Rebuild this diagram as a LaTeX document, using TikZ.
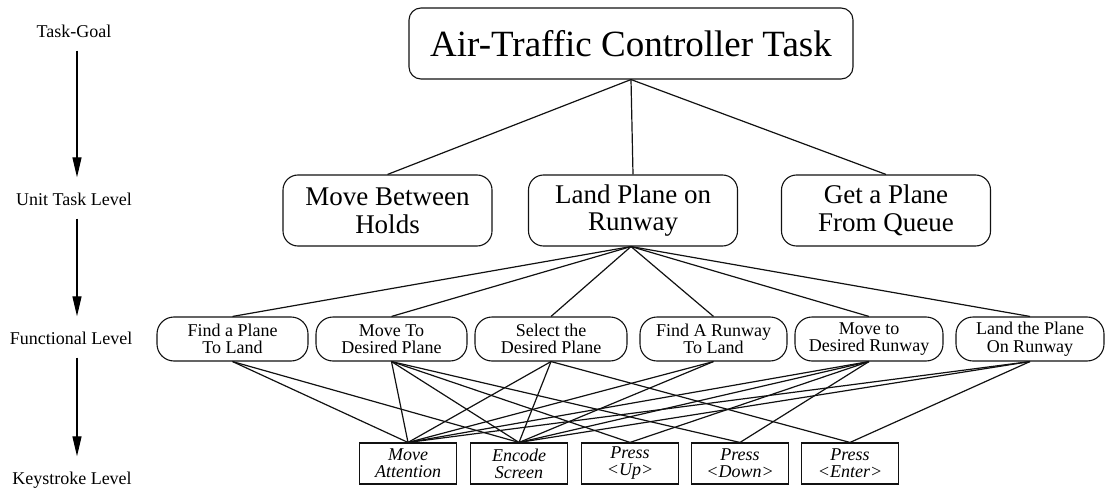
\documentclass[tikz,border=0pt]{standalone}
\usepackage{fontspec}
\setmainfont{Liberation Serif}
\usepackage{xcolor}
\definecolor{treeLine}{HTML}{111111}
\usetikzlibrary{arrows.meta}

\tikzset{
  goalbox/.style={draw=treeLine, line width=1.1pt, rounded corners=12pt,
    minimum width=444pt, minimum height=71pt, inner sep=0pt,
    font=\fontsize{37}{40}\selectfont},
  unitbox/.style={draw=treeLine, line width=1.1pt, rounded corners=15pt,
    minimum width=209pt, minimum height=71pt, inner sep=0pt, align=center,
    font=\fontsize{27}{27.7}\selectfont},
  funcbox/.style={draw=treeLine, line width=1.1pt, rounded corners=17pt,
    minimum height=44pt, inner sep=0pt, align=center,
    font=\fontsize{18}{17.5}\selectfont},
  keybox/.style={draw=treeLine, line width=1.1pt,
    minimum width=97pt, minimum height=41pt, inner sep=0pt, align=center,
    font=\fontsize{18}{17}\selectfont\itshape},
  levellabel/.style={inner sep=0pt, text height=13pt, text depth=4pt,
    font=\fontsize{18}{20}\selectfont},
  levelarrow/.style={line width=1.3pt, -{Triangle[length=20pt,width=9pt]},
    shorten <=9pt, shorten >=15pt},
  link/.style={treeLine, line width=1.2pt}
}

\begin{document}
\begin{tikzpicture}[x=1pt, y=-1pt]
  \useasboundingbox (0,0) rectangle (1110,489);

  % levels down the left side
  \node[levellabel] (tg) at (74,33) {Task-Goal};
  \node[levellabel] (ut) at (74,201) {Unit Task Level};
  \node[levellabel] (fl) at (71,340) {Functional Level};
  \node[levellabel] (ks) at (72,480) {Keystroke Level};
  \draw[levelarrow] ([xshift=3pt]tg.south) -- ([xshift=3pt]ut.north);
  \draw[levelarrow] ([xshift=3pt]ut.south) -- ([xshift=6pt]fl.north);
  \draw[levelarrow] ([xshift=6pt]fl.south) -- ([xshift=5pt]ks.north);

  % task goal and unit tasks
  \node[goalbox] (goal) at (631,43.5) {Air-Traffic Controller Task};
  \node[unitbox] (holds) at (387.5,210.5) {Move Between\\Holds};
  \node[unitbox] (landrw) at (633,210.5) {Land Plane on\\Runway};
  \node[unitbox] (queue) at (886,210.5) {Get a Plane\\From Queue};

  % functional level
  \node[funcbox, minimum width=151pt] (f1) at (232.5,339) {Find a Plane\\To Land};
  \node[funcbox, minimum width=151pt] (f2) at (391.5,339) {Move To\\Desired Plane};
  \node[funcbox, minimum width=152pt] (f3) at (551,339) {Select the\\Desired Plane};
  \node[funcbox, minimum width=147pt] (f4) at (713.5,339) {Find A Runway\\To Land};
  \node[funcbox, minimum width=148pt] (f5) at (869,339) {Move to\\Desired Runway};
  \node[funcbox, minimum width=148pt] (f6) at (1030,339) {Land the Plane\\On Runway};

  % keystroke level
  \node[keybox] (k1) at (408,463.5) {Move\\Attention};
  \node[keybox] (k2) at (519,463.5) {Encode\\Screen};
  \node[keybox] (k3) at (630,463.5) {Press\\<Up>};
  \node[keybox] (k4) at (740,463.5) {Press\\<Down>};
  \node[keybox] (k5) at (850,463.5) {Press\\<Enter>};

  % goal -> unit tasks
  \foreach \u in {holds,landrw,queue}
    \draw[link] (goal.south) -- (\u.north);

  % unit task -> functions
  \foreach \f in {f1,f2,f3,f4,f5,f6}
    \draw[link] ([xshift=-2pt]landrw.south) -- (\f.north);

  % functions -> keystrokes
  \foreach \f/\k in {f1/k1, f1/k2,
                     f2/k1, f2/k2, f2/k3, f2/k4,
                     f3/k1, f3/k2, f3/k5,
                     f4/k1, f4/k2,
                     f5/k1, f5/k2, f5/k3, f5/k4,
                     f6/k1, f6/k2, f6/k5}
    \draw[link] (\f.south) -- (\k.north);
\end{tikzpicture}
\end{document}
